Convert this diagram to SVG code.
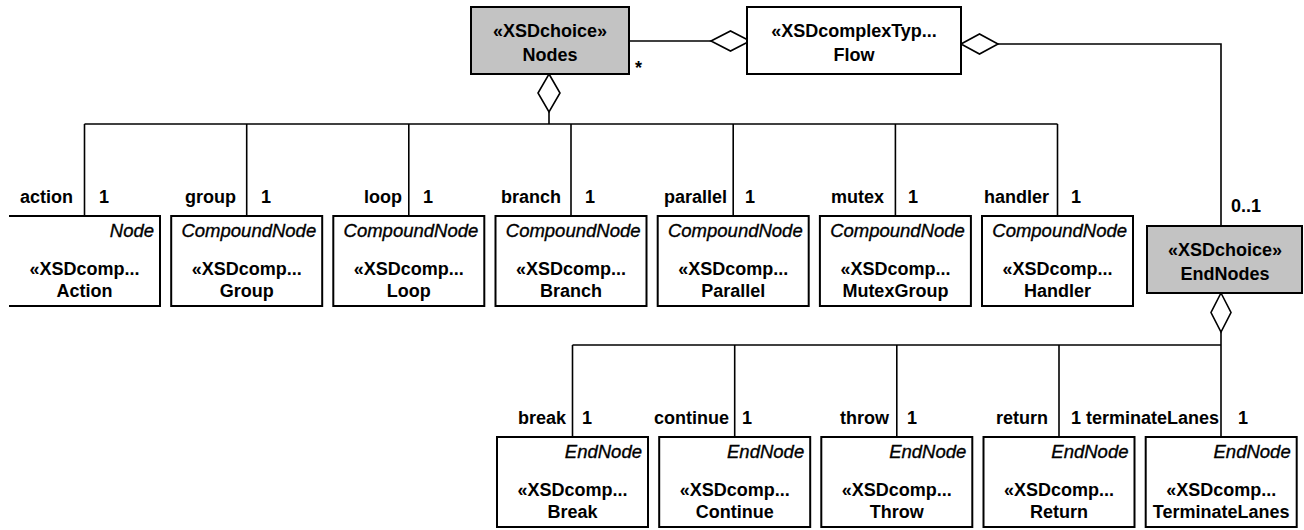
<svg xmlns="http://www.w3.org/2000/svg" width="1304" height="530" viewBox="0 0 1304 530">
<style>
  .box { fill: #ffffff; stroke: #000000; stroke-width: 2; }
  .choice { fill: #c3c3c3; stroke: #000000; stroke-width: 2; }
  .ln { fill: none; stroke: #000000; stroke-width: 1.6; }
  .dia { fill: #ffffff; stroke: #000000; stroke-width: 1.6; }
  text { font-family: "Liberation Sans", Arial, sans-serif; fill: #000000; }
  .st { font-size: 18px; font-weight: bold; text-anchor: middle; }
  .nm { font-size: 18px; font-weight: bold; text-anchor: middle; }
  .it { font-size: 18.5px; font-style: italic; text-anchor: end; stroke: #000000; stroke-width: 0.35; }
  .role { font-size: 18px; font-weight: bold; text-anchor: end; }
  .mult { font-size: 18px; font-weight: bold; text-anchor: start; }
</style>
<rect width="1304" height="530" fill="#ffffff"/>

<g id="connectors">
  <!-- Nodes - Flow aggregation -->
  <line class="ln" x1="629" y1="41" x2="711" y2="41"/>
  <polygon class="dia" points="711,41 730.5,31 750,41 730.5,51"/>
  <text class="mult" x="635" y="74">*</text>
  <!-- Flow - EndNodes aggregation -->
  <polyline class="ln" points="998,44 1221,44 1221,226"/>
  <polygon class="dia" points="961,44 979.5,34 998,44 979.5,54"/>
  <text class="mult" x="1231" y="212">0..1</text>
  <!-- Nodes composition tree -->
  <polygon class="dia" points="549,74 560,93 549,112 538,93"/>
  <line class="ln" x1="549" y1="112" x2="549" y2="124"/>
  <line class="ln" x1="84.5" y1="124" x2="1057.5" y2="124"/>
  <line class="ln" x1="84.5" y1="124" x2="84.5" y2="216"/>
  <line class="ln" x1="246.7" y1="124" x2="246.7" y2="216"/>
  <line class="ln" x1="408.8" y1="124" x2="408.8" y2="216"/>
  <line class="ln" x1="571" y1="124" x2="571" y2="216"/>
  <line class="ln" x1="733.2" y1="124" x2="733.2" y2="216"/>
  <line class="ln" x1="895.4" y1="124" x2="895.4" y2="216"/>
  <line class="ln" x1="1057.5" y1="124" x2="1057.5" y2="216"/>
  <text class="role" x="73" y="203">action</text>
  <text class="mult" x="99" y="203">1</text>
  <text class="role" x="236" y="203">group</text>
  <text class="mult" x="261" y="203">1</text>
  <text class="role" x="402" y="203">loop</text>
  <text class="mult" x="423" y="203">1</text>
  <text class="role" x="561" y="203">branch</text>
  <text class="mult" x="585" y="203">1</text>
  <text class="role" x="727" y="203">parallel</text>
  <text class="mult" x="745" y="203">1</text>
  <text class="role" x="884" y="203">mutex</text>
  <text class="mult" x="908" y="203">1</text>
  <text class="role" x="1049" y="203">handler</text>
  <text class="mult" x="1071" y="203">1</text>
  <!-- EndNodes composition tree -->
  <polygon class="dia" points="1221,293 1231,312.5 1221,332 1211,312.5"/>
  <line class="ln" x1="1221" y1="332" x2="1221" y2="437"/>
  <line class="ln" x1="572.5" y1="345" x2="1221" y2="345"/>
  <line class="ln" x1="572.5" y1="345" x2="572.5" y2="437"/>
  <line class="ln" x1="734.7" y1="345" x2="734.7" y2="437"/>
  <line class="ln" x1="896.8" y1="345" x2="896.8" y2="437"/>
  <line class="ln" x1="1059" y1="345" x2="1059" y2="437"/>
  <text class="role" x="566" y="424">break</text>
  <text class="mult" x="582" y="424">1</text>
  <text class="role" x="729" y="424">continue</text>
  <text class="mult" x="742" y="424">1</text>
  <text class="role" x="889" y="424">throw</text>
  <text class="mult" x="907" y="424">1</text>
  <text class="role" x="1048" y="424">return</text>
  <text class="mult" x="1071" y="424">1</text>
  <text class="role" x="1219" y="424">terminateLanes</text>
  <text class="mult" x="1238" y="424">1</text>
</g>

<g id="Nodes">
  <rect class="choice" x="471" y="7" width="158" height="67"/>
  <text class="st" x="550" y="37">«XSDchoice»</text>
  <text class="nm" x="550" y="61">Nodes</text>
</g>
<g id="Flow">
  <rect class="box" x="747" y="7" width="214" height="67"/>
  <text class="st" x="854" y="37">«XSDcomplexTyp...</text>
  <text class="nm" x="854" y="61">Flow</text>
</g>
<g id="EndNodes">
  <rect class="choice" x="1147" y="226" width="155" height="67"/>
  <text class="st" x="1225" y="256">«XSDchoice»</text>
  <text class="nm" x="1225" y="280">EndNodes</text>
</g>

<g id="Action">
  <path class="box" d="M9,216 H160 V306 H9"/>
  <text class="it" x="154" y="237">Node</text>
  <text class="st" x="84.5" y="275">«XSDcomp...</text>
  <text class="nm" x="84.5" y="297">Action</text>
</g>
<g id="Group">
  <rect class="box" x="171.2" y="216" width="151" height="90"/>
  <text class="it" x="316.2" y="237">CompoundNode</text>
  <text class="st" x="246.7" y="275">«XSDcomp...</text>
  <text class="nm" x="246.7" y="297">Group</text>
</g>
<g id="Loop">
  <rect class="box" x="333.3" y="216" width="151" height="90"/>
  <text class="it" x="478.3" y="237">CompoundNode</text>
  <text class="st" x="408.8" y="275">«XSDcomp...</text>
  <text class="nm" x="408.8" y="297">Loop</text>
</g>
<g id="Branch">
  <rect class="box" x="495.5" y="216" width="151" height="90"/>
  <text class="it" x="640.5" y="237">CompoundNode</text>
  <text class="st" x="571" y="275">«XSDcomp...</text>
  <text class="nm" x="571" y="297">Branch</text>
</g>
<g id="Parallel">
  <rect class="box" x="657.7" y="216" width="151" height="90"/>
  <text class="it" x="802.7" y="237">CompoundNode</text>
  <text class="st" x="733.2" y="275">«XSDcomp...</text>
  <text class="nm" x="733.2" y="297">Parallel</text>
</g>
<g id="MutexGroup">
  <rect class="box" x="819.9" y="216" width="151" height="90"/>
  <text class="it" x="964.9" y="237">CompoundNode</text>
  <text class="st" x="895.4" y="275">«XSDcomp...</text>
  <text class="nm" x="895.4" y="297">MutexGroup</text>
</g>
<g id="Handler">
  <rect class="box" x="982" y="216" width="151" height="90"/>
  <text class="it" x="1127" y="237">CompoundNode</text>
  <text class="st" x="1057.5" y="275">«XSDcomp...</text>
  <text class="nm" x="1057.5" y="297">Handler</text>
</g>

<g id="Break">
  <rect class="box" x="497" y="437" width="151" height="90"/>
  <text class="it" x="642" y="458">EndNode</text>
  <text class="st" x="572.5" y="496">«XSDcomp...</text>
  <text class="nm" x="572.5" y="518">Break</text>
</g>
<g id="Continue">
  <rect class="box" x="659.2" y="437" width="151" height="90"/>
  <text class="it" x="804.2" y="458">EndNode</text>
  <text class="st" x="734.7" y="496">«XSDcomp...</text>
  <text class="nm" x="734.7" y="518">Continue</text>
</g>
<g id="Throw">
  <rect class="box" x="821.3" y="437" width="151" height="90"/>
  <text class="it" x="966.3" y="458">EndNode</text>
  <text class="st" x="896.8" y="496">«XSDcomp...</text>
  <text class="nm" x="896.8" y="518">Throw</text>
</g>
<g id="Return">
  <rect class="box" x="983.5" y="437" width="151" height="90"/>
  <text class="it" x="1128.5" y="458">EndNode</text>
  <text class="st" x="1059" y="496">«XSDcomp...</text>
  <text class="nm" x="1059" y="518">Return</text>
</g>
<g id="TerminateLanes">
  <rect class="box" x="1145.7" y="437" width="151" height="90"/>
  <text class="it" x="1290.7" y="458">EndNode</text>
  <text class="st" x="1221.2" y="496">«XSDcomp...</text>
  <text class="nm" x="1221.2" y="518">TerminateLanes</text>
</g>
</svg>
